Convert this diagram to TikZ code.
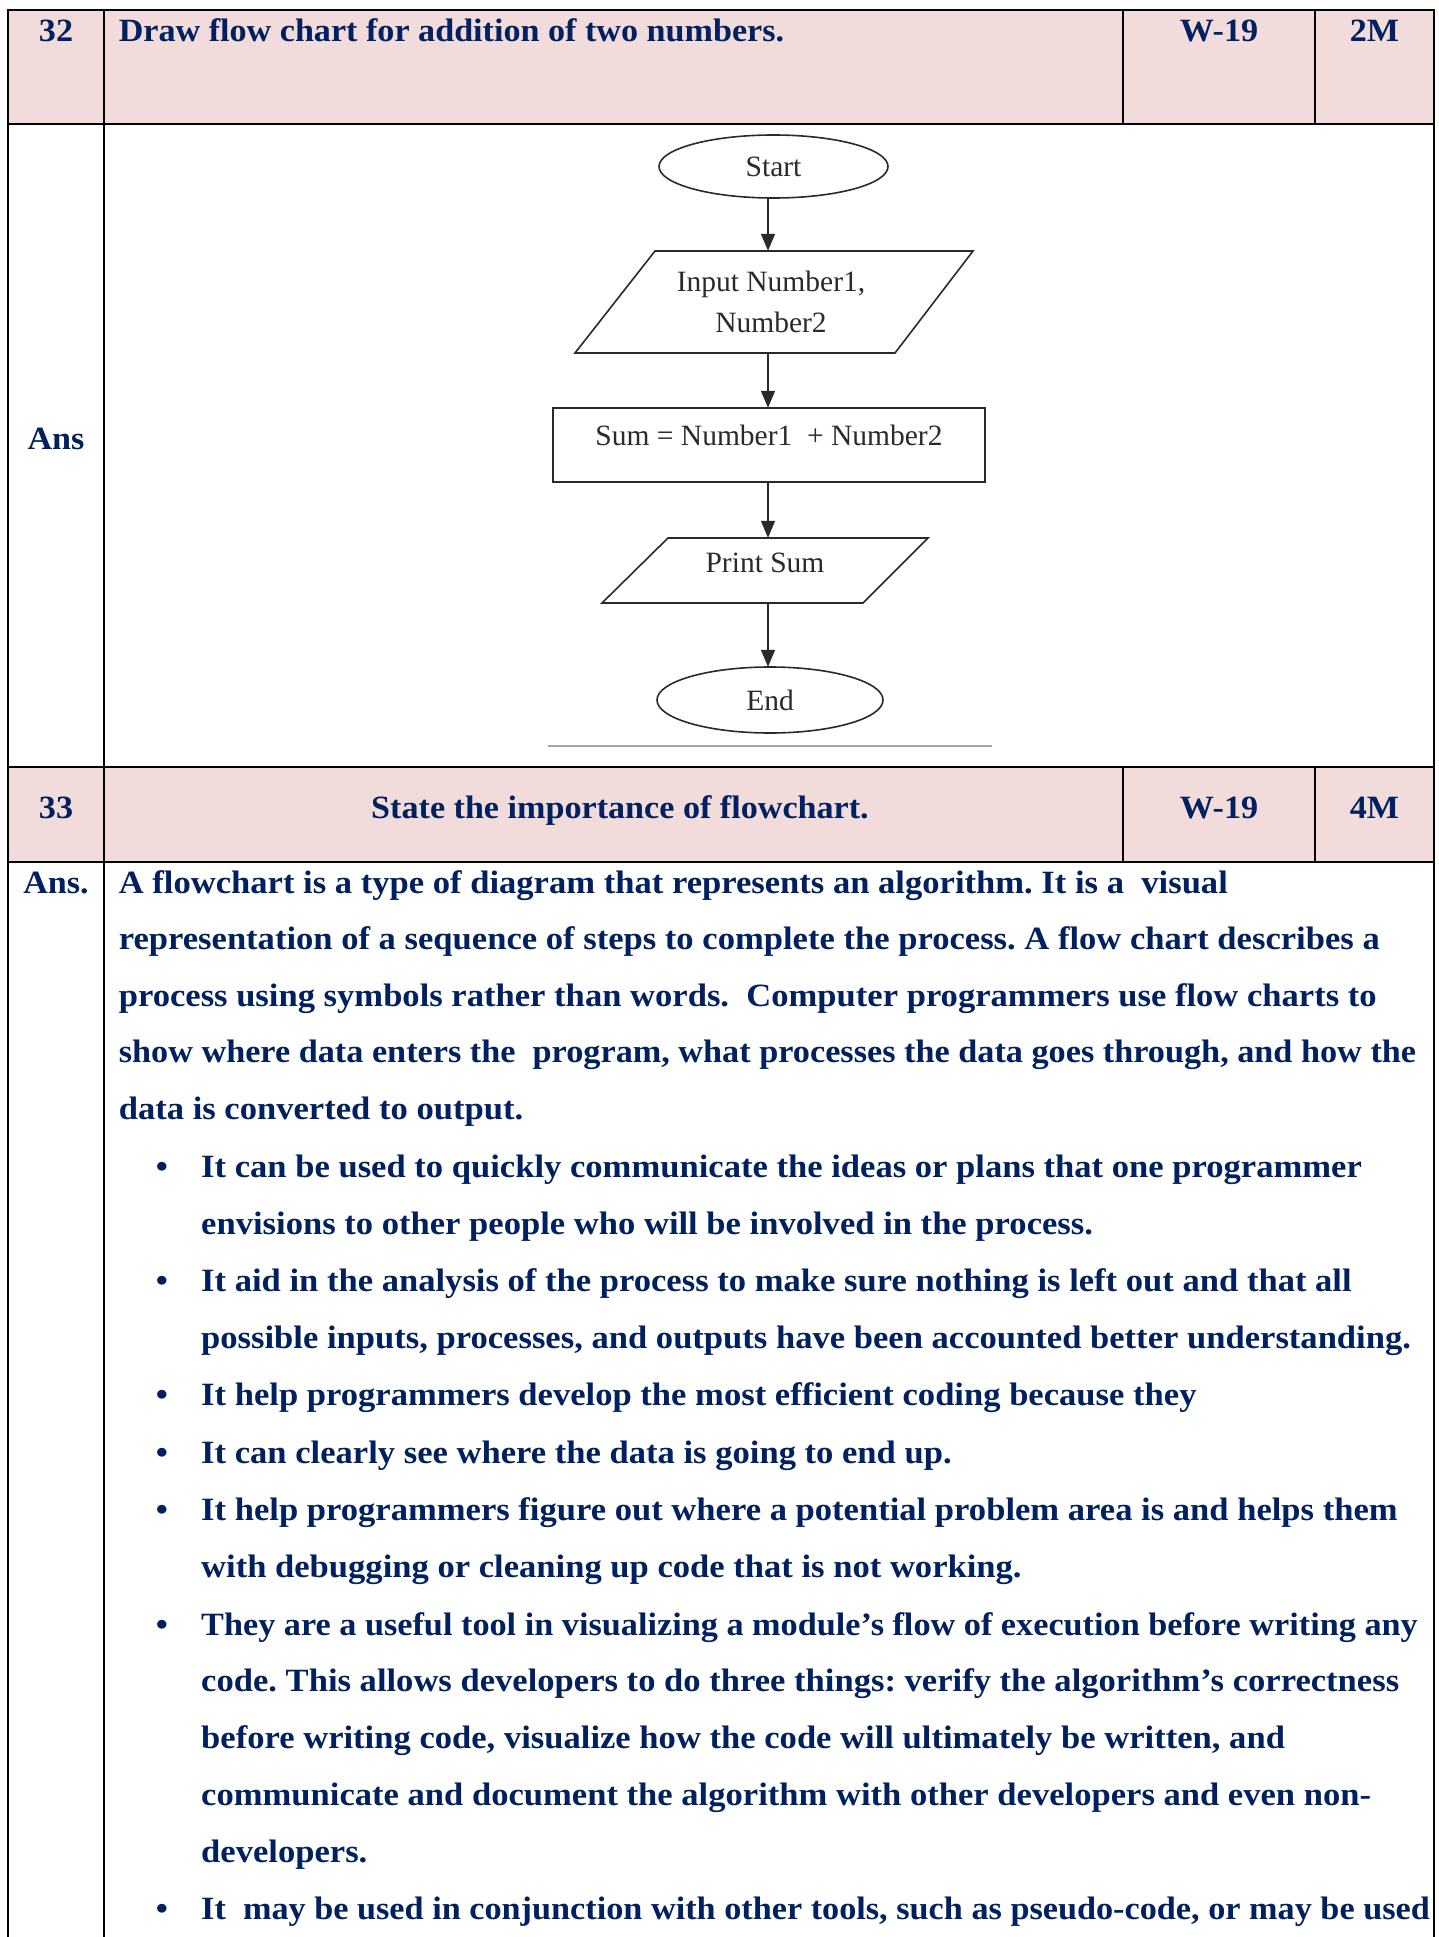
\documentclass[tikz,border=0pt]{standalone}
\usepackage{fontspec}
\setmainfont{Liberation Serif}[FakeStretch=1.064]
\newfontfamily\headfont{Liberation Serif}[FakeStretch=1.05]
\newfontfamily\chartfont{Liberation Serif}
\usetikzlibrary{arrows.meta}
\definecolor{ink}{HTML}{002060}
\definecolor{headfill}{HTML}{F2DCDB}
\definecolor{chartline}{HTML}{2A2A2A}
\frenchspacing

\tikzset{
  grid/.style={line width=2.4pt, black, line cap=rect},
  body/.style={inner sep=0pt, text=ink, font=\bfseries\fontsize{32.5}{39}\selectfont},
  line/.style={body, anchor=base west},
  cell/.style={inner sep=0pt, text=ink, font=\headfont\bfseries\fontsize{32.5}{39}\selectfont, anchor=base},
  celll/.style={cell, anchor=base west},
  dot/.style={body, anchor=base},
  chart/.style={draw=chartline, line width=1.6pt},
  ctext/.style={inner sep=0pt, text=chartline, font=\chartfont\fontsize{29.5}{36}\selectfont},
  flow/.style={draw=chartline, line width=1.6pt, -{Triangle[length=17pt, width=14pt]}},
}
% slightly tighter set for the two longest lines
\newcommand{\tightline}[1]{\scalebox{0.99}[1]{#1}}

\begin{document}
\begin{tikzpicture}[x=1pt, y=-1pt]
\useasboundingbox (0,0) rectangle (1439,1937);

% header shading
\fill[headfill] (8,10) rectangle (1434,124);
\fill[headfill] (8,767) rectangle (1434,862);

% table rules
\draw[grid] (8,10) -- (1434,10);
\draw[grid] (8,124) -- (1434,124);
\draw[grid] (8,767) -- (1434,767);
\draw[grid] (8,862) -- (1434,862);
\draw[grid] (8,10) -- (8,1945);
\draw[grid] (104,10) -- (104,1945);
\draw[grid] (1434,10) -- (1434,1945);
\draw[grid] (1123,10) -- (1123,124);
\draw[grid] (1315,10) -- (1315,124);
\draw[grid] (1123,767) -- (1123,862);
\draw[grid] (1315,767) -- (1315,862);

% question 32
\node[cell] (q32) at (56,42) {32};
\node[celll] (q32t) at (118.6,42) {Draw flow chart for addition of two numbers.};
\node[cell] (q32w) at (1219,42) {W-19};
\node[cell] (q32m) at (1374.5,42) {2M};
\node[cell] (ans32) at (56,449) {Ans};

% flowchart panel
\fill[white] (548,125) rectangle (992,748);
\draw[gray!70, line width=1.2pt] (548,746) -- (992,746);
\coordinate (axis) at (768,0);

\draw[chart] (773.5,166.5) ellipse [x radius=114.5, y radius=31.5];
\node[ctext, minimum width=229, minimum height=63] (start) at (773.5,166.5) {Start};

\draw[chart] (655,251) -- (973,251) -- (895,353) -- (575,353) -- cycle;
\node[ctext, minimum height=102, align=center] (inp) at (771,302)
  {Input Number1,\\[5pt]Number2};

\draw[chart] (553,408) rectangle (985,482);
\node[ctext, minimum width=432, minimum height=74] (sum) at (769,445) {};
\node[ctext] (sumtxt) at (769,435) {Sum = Number1 \ + Number2};

\draw[chart] (668,538) -- (928,538) -- (863,603) -- (602,603) -- cycle;
\node[ctext, minimum height=65] (prt) at (765,570.5) {};
\node[ctext] (prttxt) at (765,563) {Print Sum};

\draw[chart] (770,700) ellipse [x radius=113, y radius=33];
\node[ctext, minimum width=226, minimum height=66] (stop) at (770,700) {End};

\draw[flow] (start.south -| axis) -- (inp.north -| axis);
\draw[flow] (inp.south -| axis) -- (sum.north -| axis);
\draw[flow] (sum.south -| axis) -- (prt.north -| axis);
\draw[flow] (prt.south -| axis) -- (stop.north -| axis);

% question 33
\node[cell] (q33) at (56,818) {33};
\node[cell] (q33t) at (620,818) {State the importance of flowchart.};
\node[cell] (q33w) at (1219,818) {W-19};
\node[cell] (q33m) at (1374.5,818) {4M};
\node[cell] (ans33) at (56,893) {Ans.};

\node[line] (l0) at (118.6,893) {A flowchart is a type of diagram that represents an algorithm. It is a\ \ visual};
\node[line] (l1) at (118.6,949) {representation of a sequence of steps to complete the process. A flow chart describes a};
\node[line] (l2) at (118.6,1006) {process using symbols rather than words.\ \ Computer programmers use flow charts to};
\node[line] (l3) at (118.6,1062) {\tightline{show where data enters the\ \ program, what processes the data goes through, and how the}};
\node[line] (l4) at (118.6,1119) {data is converted to output.};

\node[dot] (b5) at (162,1177) {\textbullet};
\node[line] (l5) at (201,1177) {It can be used to quickly communicate the ideas or plans that one programmer};
\node[line] (l6) at (201,1234) {envisions to other people who will be involved in the process.};
\node[dot] (b7) at (162,1291) {\textbullet};
\node[line] (l7) at (201,1291) {It aid in the analysis of the process to make sure nothing is left out and that all};
\node[line] (l8) at (201,1348) {possible inputs, processes, and outputs have been accounted better understanding.};
\node[dot] (b9) at (162,1405) {\textbullet};
\node[line] (l9) at (201,1405) {It help programmers develop the most efficient coding because they};
\node[dot] (b10) at (162,1463) {\textbullet};
\node[line] (l10) at (201,1463) {It can clearly see where the data is going to end up.};
\node[dot] (b11) at (162,1520) {\textbullet};
\node[line] (l11) at (201,1520) {It help programmers figure out where a potential problem area is and helps them};
\node[line] (l12) at (201,1577) {with debugging or cleaning up code that is not working.};
\node[dot] (b13) at (162,1635) {\textbullet};
\node[line] (l13) at (201,1635) {\tightline{They are a useful tool in visualizing a module's flow of execution before writing any}};
\node[line] (l14) at (201,1691) {code. This allows developers to do three things: verify the algorithm's correctness};
\node[line] (l15) at (201,1748) {before writing code, visualize how the code will ultimately be written, and};
\node[line] (l16) at (201,1805) {communicate and document the algorithm with other developers and even non-};
\node[line] (l17) at (201,1862) {developers.};
\node[dot] (b18) at (162,1919) {\textbullet};
\node[line] (l18) at (201,1919) {\tightline{It\ \ may be used in conjunction with other tools, such as pseudo-code, or may be used}};
\end{tikzpicture}
\end{document}
